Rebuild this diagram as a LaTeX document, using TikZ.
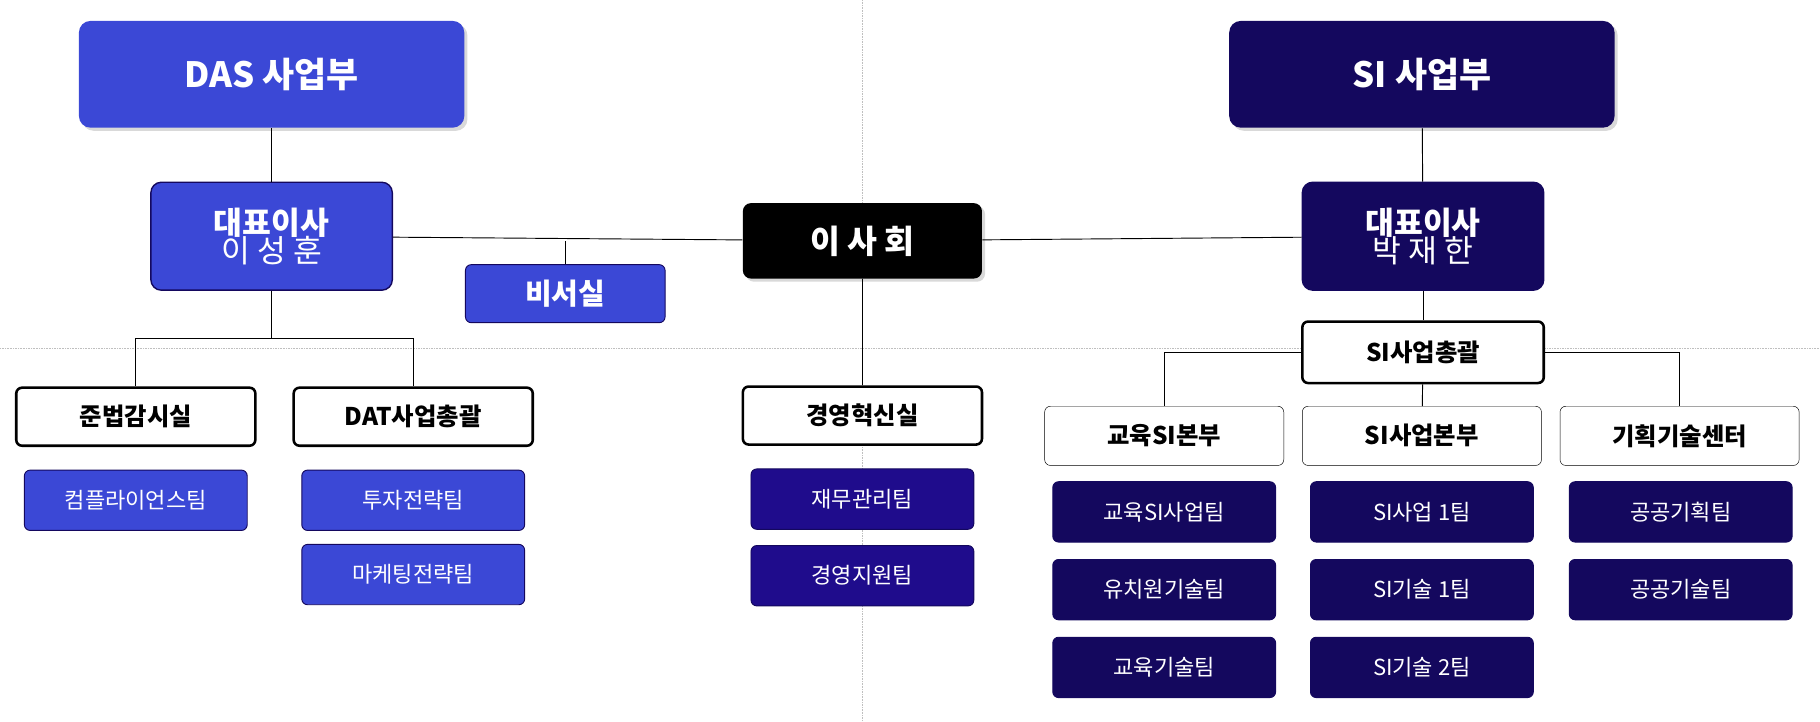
\documentclass[tikz,border=0pt]{standalone}
\usepackage{fontspec}
\setmainfont{Noto Sans CJK KR}
\usetikzlibrary{shadows}
\definecolor{dasblue}{HTML}{3B48D6}
\definecolor{sinavy}{HTML}{14085E}
\definecolor{mgmtnavy}{HTML}{1F0C8C}
\tikzset{
  % ----- boxes
  box/.style={rounded corners=5, draw=sinavy, thick, align=center, inner sep=0},
  head/.style={box, draw=none, minimum width=332, minimum height=92, rounded corners=10,
    text=white, font=\fontsize{30}{34}\selectfont\bfseries, drop shadow={opacity=0.3}},
  ceo/.style={box, very thick, minimum width=208, minimum height=93, rounded corners=9, text=white},
  dept/.style={box, draw=black, line width=2.2pt, fill=white, minimum width=206, minimum height=50,
    font=\fontsize{21}{24}\selectfont\bfseries},
  subdept/.style={box, draw=black, thin, fill=white, minimum width=206, minimum height=51,
    font=\fontsize{21}{24}\selectfont\bfseries},
  team/.style={box, minimum width=192, minimum height=52, text=white, font=\fontsize{19}{22}\selectfont},
  das/.style={fill=dasblue},
  si/.style={fill=sinavy},
  mgmt/.style={fill=mgmtnavy},
  link/.style={draw=black, thick},
  guide/.style={draw=gray!50, densely dotted, thin}
}
\begin{document}
\begin{tikzpicture}[x=1pt, y=-1pt]
  \useasboundingbox (0,0) rectangle (1568,622);
  % slide guides
  \draw[guide] (743,0) -- (743,622);
  \draw[guide] (0,300) -- (1568,300);

  % top level
  \node[head, das] (DAS) at (234,64) {DAS 사업부};
  \node[head, si] (SI) at (1225,64) {SI 사업부};
  \node[ceo, das] (CeoDAS) at (234,203.5)
    {\fontsize{27}{32}\selectfont\bfseries 대표이사\\[-2pt]\fontsize{27}{32}\selectfont 이 성 훈};
  \node[ceo, si] (CeoSI) at (1226,203.5)
    {\fontsize{27}{32}\selectfont\bfseries 대표이사\\[-2pt]\fontsize{27}{32}\selectfont 박 재 한};
  \node[box, draw=none, fill=black, minimum width=206, minimum height=65, rounded corners=7,
    text=white, font=\fontsize{28}{32}\selectfont\bfseries, drop shadow={opacity=0.3}] (Board) at (743,207.5) {이 사 회};
  \node[box, das, minimum width=172, minimum height=50, text=white,
    font=\fontsize{25}{28}\selectfont\bfseries] (Secr) at (487,253) {비서실};

  % departments
  \node[dept] (Compl) at (117,359) {준법감시실};
  \node[dept] (DAT) at (356,359) {DAT사업총괄};
  \node[dept] (Innov) at (743,358) {경영혁신실};
  \node[dept, minimum width=208, minimum height=53] (SIall) at (1226,303.5) {SI사업총괄};
  \node[subdept] (EduSI) at (1003,375.5) {교육SI본부};
  \node[subdept] (SIbiz) at (1225,375.5) {SI사업본부};
  \node[subdept] (Plan) at (1447,375.5) {기획기술센터};

  % teams
  \node[team, das] (T1) at (117,431) {컴플라이언스팀};
  \node[team, das] (T2) at (356,431) {투자전략팀};
  \node[team, das] (T3) at (356,495) {마케팅전략팀};
  \node[team, mgmt] (T4) at (743,430) {재무관리팀};
  \node[team, mgmt] (T5) at (743,496) {경영지원팀};
  \foreach \lbl [count=\r] in {교육SI사업팀, 유치원기술팀, 교육기술팀}
    \node[team, si] (E\r) at (1003,374+\r*67) {\lbl};
  \foreach \lbl [count=\r] in {SI사업 1팀, SI기술 1팀, SI기술 2팀}
    \node[team, si] (S\r) at (1225,374+\r*67) {\lbl};
  \foreach \lbl [count=\r] in {공공기획팀, 공공기술팀}
    \node[team, si] (P\r) at (1448,374+\r*67) {\lbl};

  % connectors
  \draw[link] (DAS) -- (CeoDAS);
  \draw[link] (SI) -- (CeoSI);
  \draw[link] (CeoDAS) -- (Board) -- (CeoSI);
  \draw[link] (Secr.north) -- (Secr.north |- Board);
  \draw[link] (Board) -- (Innov);
  \draw[link] (CeoDAS) -- (234,292) -| (Compl);
  \draw[link] (234,292) -| (DAT);
  \draw[link] (CeoSI) -- (SIall);
  \draw[link] (SIall) -- (SIbiz);
  \draw[link] (SIall.west) -| (EduSI);
  \draw[link] (SIall.east) -| (Plan);
\end{tikzpicture}
\end{document}
